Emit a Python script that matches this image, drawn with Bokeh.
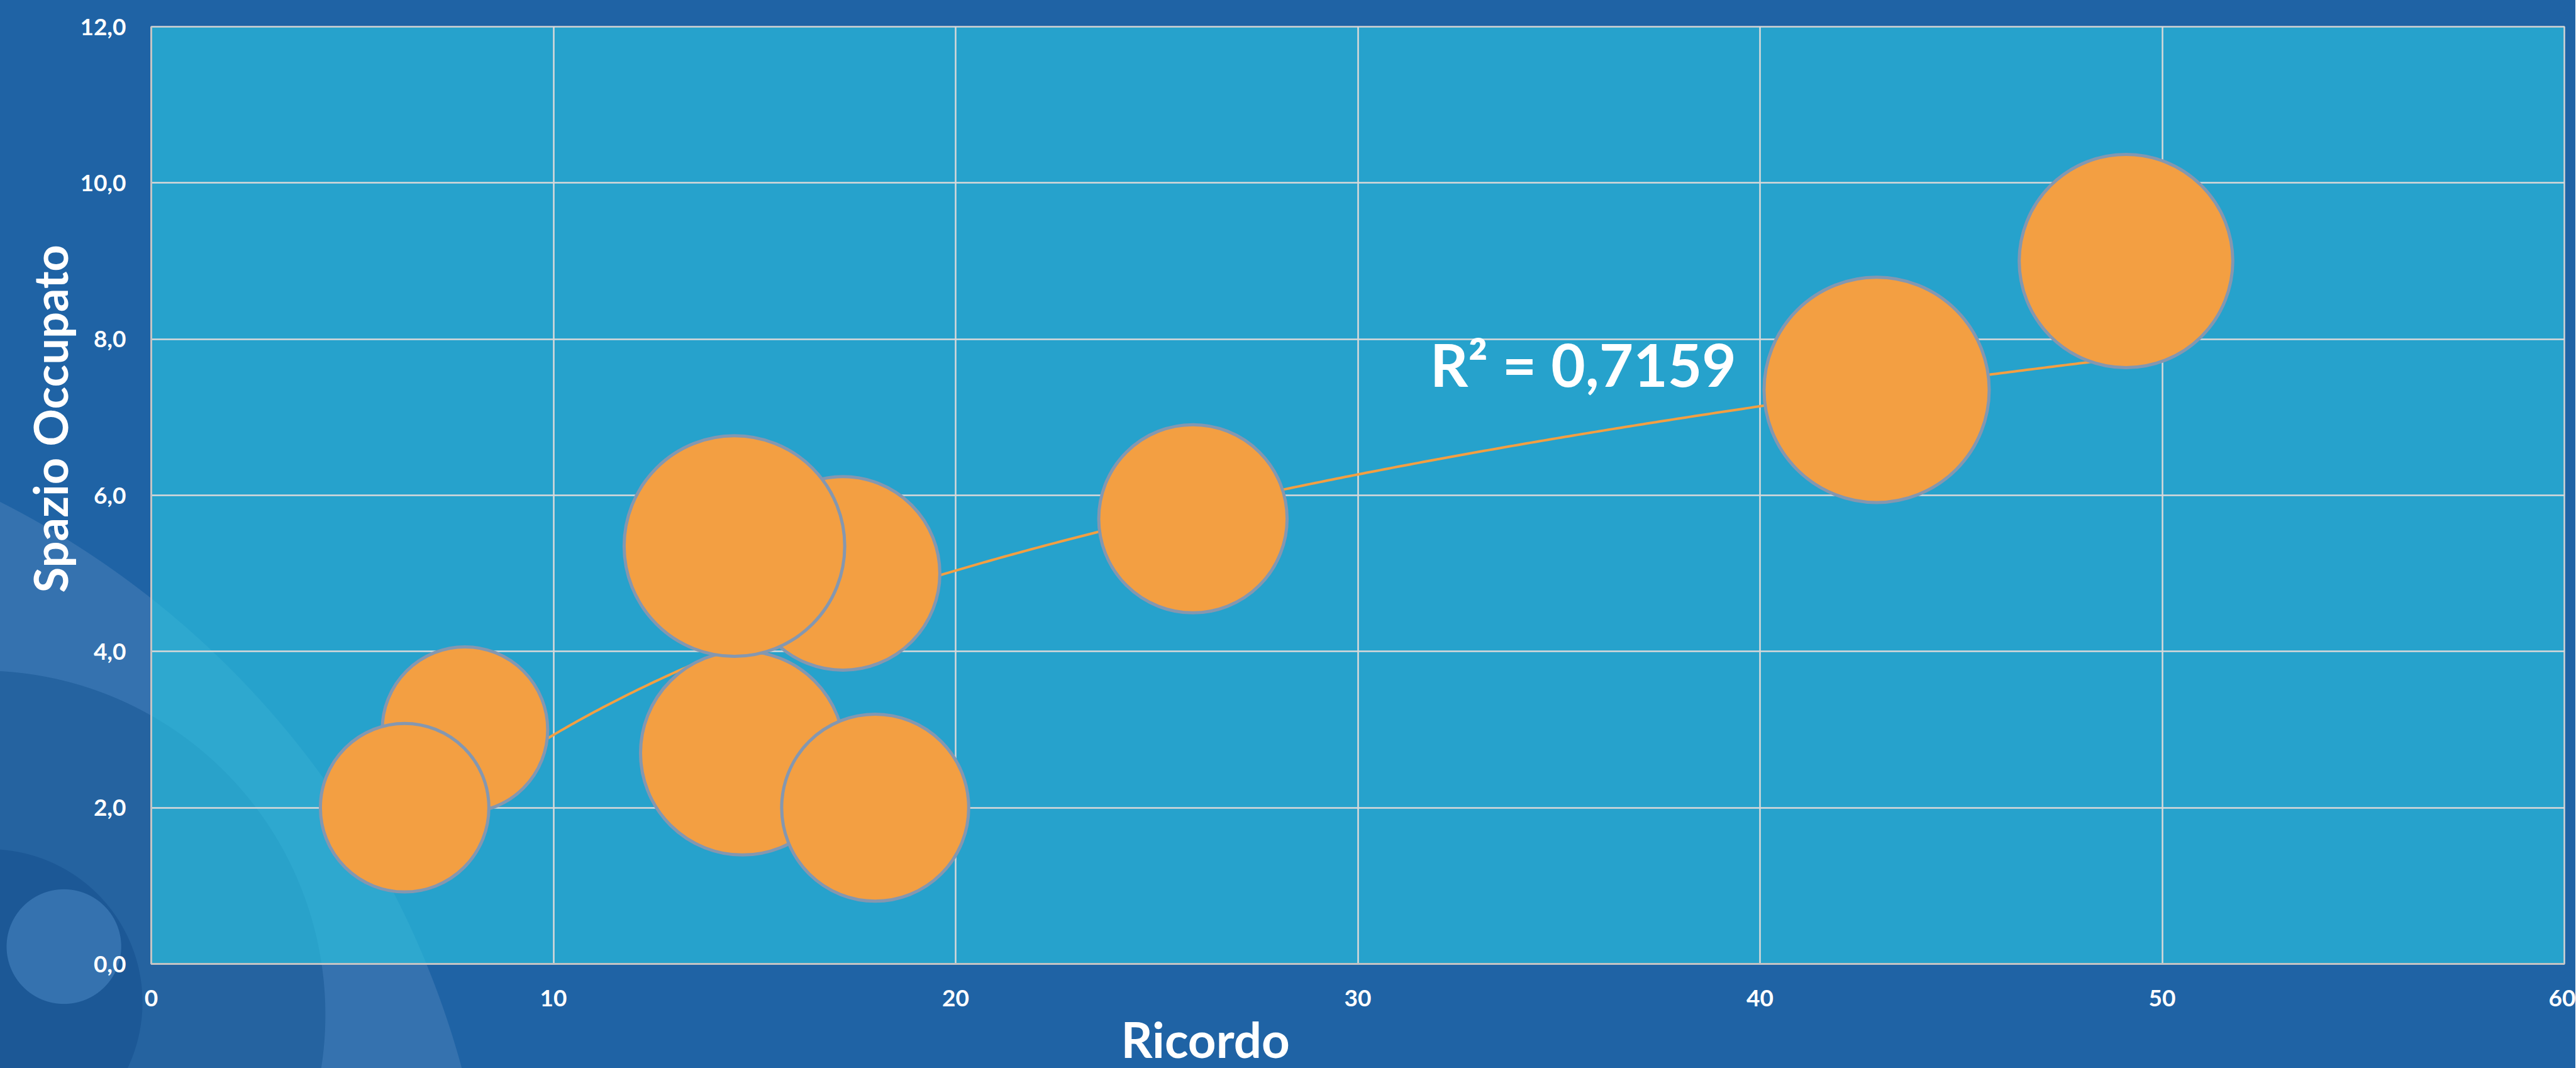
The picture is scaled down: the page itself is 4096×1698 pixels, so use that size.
import numpy as np
from bokeh.plotting import figure
from bokeh.models import Range1d, FixedTicker, CustomJSTickFormatter, Label, Title
from bokeh.embed import file_html
from bokeh.resources import INLINE

# ---------------- data ----------------
ricordo = [7.8, 6.3, 17.2, 14.7, 14.5, 18.0, 25.9, 42.9, 49.1]
spazio = [3.0, 2.0, 5.0, 2.7, 5.35, 2.0, 5.7, 7.35, 9.0]
dimensione = [5.4, 5.6, 7.4, 8.2, 9.6, 6.9, 7.0, 10.0, 9.0]
x_ticks = [0, 10, 20, 30, 40, 50, 60]
y_ticks = [0, 2, 4, 6, 8, 10, 12]
x_title = "Ricordo"
y_title = "Spazio Occupato"
r2_text = "R² = 0,7159"

# ---------------- geometry / style ----------------
S = 0.996      # scale to window
ORANGE = "#F39F42"
EDGE = "#8497B0"
MAX_D = 358    # diameter (px) of the largest bubble
TITLE_FONT = "Lato"

def cx(X):
    return X * S

p = figure(frame_width=3837, frame_height=1490, output_backend="svg",
           toolbar_location=None,
           x_range=Range1d(0, 60), y_range=Range1d(0, 12),
           min_border_left=240, min_border_right=18,
           min_border_top=42, min_border_bottom=165)

# background (slide decoration) via CSS on the figure host
def circ(x, y, r, color):
    X, Y, R = cx(x), cx(y), r * S
    return (f"radial-gradient(circle {R:.1f}px at {X:.1f}px {Y:.1f}px, "
            f"{color} {R - 1:.1f}px, transparent {R:.1f}px)")

bg = ", ".join([
    circ(102, 1511, 92, "#3572AF"),
    circ(-17, 1600, 245, "#1C5896"),
    circ(-30, 1620, 550, "#2563A0"),
    circ(-648, 2082, 1436, "#3572AF"),
])
p.styles = {"background": bg + ", #1F63A5"}
p.border_fill_color = None
p.background_fill_color = "#2BC4E1"
p.background_fill_alpha = 0.65
p.outline_line_color = "#D4D4D4"
p.outline_line_width = 2.5

# axes
for ax in (p.xaxis[0], p.yaxis[0]):
    ax.axis_line_color = "#C4C4C4"
    ax.axis_line_width = 3
    ax.major_tick_out = 0
    ax.major_tick_in = 0
    ax.minor_tick_out = 0
    ax.minor_tick_in = 0
    ax.major_label_text_color = "white"
    ax.major_label_text_font = "Lato"
    ax.major_label_text_font_style = "bold"
    ax.major_label_text_font_size = "37px"

p.xaxis.ticker = FixedTicker(ticks=x_ticks)
p.yaxis.ticker = FixedTicker(ticks=y_ticks)
p.yaxis.formatter = CustomJSTickFormatter(code="return tick.toFixed(1).replace('.', ',');")
p.xaxis.formatter = CustomJSTickFormatter(code="return tick.toFixed(0);")
p.xaxis.major_label_standoff = 41
p.yaxis.major_label_standoff = 40

p.xgrid.ticker = FixedTicker(ticks=x_ticks)
p.ygrid.ticker = FixedTicker(ticks=y_ticks)
p.grid.grid_line_color = "#D9D9D9"
p.grid.grid_line_width = 2.5

# logarithmic trendline (least squares on the data)
xa = np.array(ricordo)
ya = np.array(spazio)
a, b = np.polyfit(np.log(xa), ya, 1)
xs = np.linspace(xa.min(), xa.max(), 400)
p.line(xs, a * np.log(xs) + b, line_color=ORANGE, line_width=4)

# bubbles
va = np.array(dimensione)
sizes = MAX_D * np.sqrt(va / va.max())
p.scatter(x=ricordo, y=spazio, size=sizes, marker="circle",
          fill_color=ORANGE, fill_alpha=1.0, line_color=EDGE, line_width=5)

# R^2 label
p.add_layout(Label(x=31.8, y=7.68, text=r2_text, text_align="left",
                   text_baseline="alphabetic", text_color="white",
                   text_font="Lato", text_font_style="bold",
                   text_font_size="94px"))

# axis titles (positioned as in the reference, not centred)
p.add_layout(Title(text=x_title, align="left", offset=1542, standoff=0,
                   text_color="white", text_font=TITLE_FONT,
                   text_font_style="bold", text_font_size="78px"), "below")
p.add_layout(Title(text=y_title, align="left", offset=590, standoff=2,
                   text_color="white", text_font=TITLE_FONT,
                   text_font_style="bold", text_font_size="74px"), "left")

open("out.html", "w").write(file_html(p, INLINE))
